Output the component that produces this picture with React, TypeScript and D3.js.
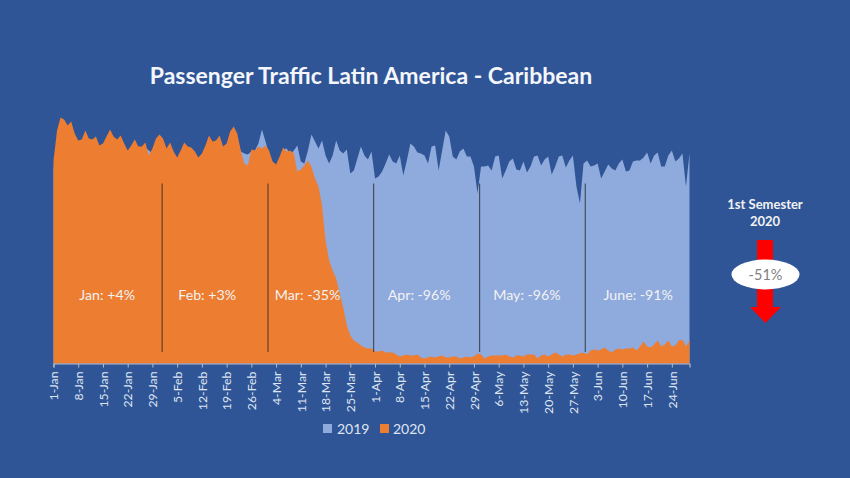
import { useEffect, useRef } from 'react';
import * as d3 from 'd3';

// daily traffic (same arbitrary units for both years)
const values2019: number[] = [
  195, 225, 240, 238, 232, 236, 225, 218, 220, 228,
  220, 218, 222, 212, 215, 220, 228, 222, 218, 222,
  214, 208, 212, 218, 211, 212, 216, 213, 210, 219,
  224, 220, 210, 216, 207, 201, 208, 216, 212, 210,
  207, 201, 205, 213, 222, 216, 218, 223, 212, 215,
  226, 231, 225, 212, 210, 209, 212, 213, 220, 234,
  222, 210, 200, 195, 200, 214, 215, 209, 213, 218,
  202, 200, 213, 229, 222, 215, 223, 208, 200, 208,
  223, 213, 210, 214, 190, 193, 205, 217, 208, 204,
  212, 185, 187, 192, 200, 209, 202, 200, 208, 188,
  203, 220, 217, 211, 210, 208, 200, 217, 218, 193,
  213, 233, 227, 207, 204, 212, 215, 207, 207, 197,
  170, 197, 197, 198, 193, 207, 208, 185, 193, 202,
  205, 194, 193, 202, 191, 197, 207, 208, 198, 204,
  207, 189, 197, 207, 208, 196, 203, 208, 177, 160,
  200, 203, 197, 198, 200, 185, 192, 199, 195, 193,
  200, 204, 192, 193, 202, 203, 203, 206, 211, 200,
  208, 211, 197, 197, 208, 213, 202, 205, 210, 177, 210,
];

const values2020: number[] = [
  203, 233, 246, 244, 238, 242, 230, 223, 224, 233,
  225, 224, 227, 218, 220, 227, 234, 227, 224, 228,
  220, 213, 218, 224, 217, 217, 221, 208, 215, 225,
  229, 225, 215, 221, 212, 206, 213, 221, 217, 216,
  212, 206, 210, 218, 228, 222, 223, 228, 217, 220,
  232, 237, 230, 213, 200, 198, 214, 213, 217, 215,
  218, 213, 202, 199, 207, 216, 212, 213, 210, 192,
  194, 198, 203, 197, 185, 177, 158, 123, 103, 93,
  85, 70, 56, 38, 28, 23, 21, 18, 16, 15,
  15, 12, 12, 13, 11, 11, 11, 9, 7, 8,
  9, 8, 8, 9, 6, 5, 6, 7, 6, 7,
  8, 6, 6, 7, 7, 5, 6, 7, 6, 7,
  10, 9, 5, 7, 8, 8, 8, 8, 9, 7,
  6, 8, 8, 7, 9, 9, 9, 5, 8, 9,
  7, 9, 11, 9, 7, 9, 9, 8, 9, 10,
  11, 9, 13, 14, 13, 14, 16, 13, 11, 14,
  15, 14, 15, 15, 16, 13, 17, 22, 17, 16,
  19, 23, 17, 19, 23, 17, 18, 23, 24, 17, 23,
];

const tickLabels: string[] = [
  '1-Jan', '8-Jan', '15-Jan', '22-Jan', '29-Jan', '5-Feb', '12-Feb', '19-Feb', '26-Feb',
  '4-Mar', '11-Mar', '18-Mar', '25-Mar', '1-Apr', '8-Apr', '15-Apr', '22-Apr', '29-Apr',
  '6-May', '13-May', '20-May', '27-May', '3-Jun', '10-Jun', '17-Jun', '24-Jun',
];

// month dividers sit between days, they were placed by hand on the original
const dividerDays: number[] = [30.75, 60.7, 90.6, 120.6, 150.5];

const monthLabels: string[] = ['Jan: +4%', 'Feb: +3%', 'Mar: -35%', 'Apr: -96%', 'May: -96%', 'June: -91%'];
const monthLabelDays: number[] = [15.2, 43.5, 71.9, 103.5, 134, 165.5];

const width = 850;
const height = 478;
const marginLeft = 53.5;
const marginRight = 160.5;
const baseline = 363.5;
const font = 'Lato, "Open Sans", sans-serif';

const x = d3.scaleLinear().domain([0, values2020.length - 1]).range([marginLeft, width - marginRight]);
const y = d3.scaleLinear().domain([0, 250]).range([baseline, baseline - 250]);

const area = d3
  .area<number>()
  .x((_, i) => x(i))
  .y0(baseline)
  .y1((d) => y(d));

const App: React.FC = () => {
  const axisRef = useRef<SVGGElement | null>(null);

  useEffect(() => {
    if (!axisRef.current) return;
    const axis = d3
      .axisBottom(x)
      .tickValues(tickLabels.map((_, i) => i * 7))
      .tickFormat((_, i) => tickLabels[i])
      .tickSizeOuter(0)
      .tickSize(4);

    const g = d3.select(axisRef.current);
    g.selectAll('*').remove();
    g.call(axis);
    g.select('.domain').attr('stroke', '#b4bccb').attr('stroke-width', 1.2);
    g.selectAll('.tick line').attr('stroke', '#b4bccb');
    g.selectAll('.tick text')
      .attr('transform', 'rotate(-90)')
      .attr('x', -8)
      .attr('y', 0)
      .attr('dy', '0.34em')
      .attr('text-anchor', 'end')
      .attr('fill', '#dfe5f0')
      .style('font-family', font)
      .style('font-size', '12.3px');
  }, []);

  return (
    <svg
      width={width}
      height={height}
      style={{ position: 'absolute', left: 0, top: 0, background: '#2f5597' }}
    >
      <text x={371} y={84} textAnchor="middle" fill="#f4f6fa" fontFamily={font} fontWeight={700} fontSize={23}>
        Passenger Traffic Latin America - Caribbean
      </text>

      <path d={area(values2019) ?? ''} fill="#8faadc" />
      <path d={area(values2020) ?? ''} fill="#ed7d31" />

      {dividerDays.map((d) => (
        <line
          key={d}
          x1={x(d)}
          x2={x(d)}
          y1={183.5}
          y2={352}
          stroke="#262626"
          strokeOpacity={0.75}
          strokeWidth={1.1}
        />
      ))}

      {monthLabels.map((label, i) => (
        <text
          key={label}
          x={x(monthLabelDays[i])}
          y={299.5}
          textAnchor="middle"
          fill="#f2f2f2"
          fontFamily={font}
          fontSize={14.2}
        >
          {label}
        </text>
      ))}

      <g ref={axisRef} transform={`translate(0,${baseline})`} />

      <g fontFamily={font} fontSize={14} fill="#dfe5f0">
        <rect x={323} y={424} width={9} height={9} fill="#8faadc" />
        <text x={337} y={434}>2019</text>
        <rect x={380} y={424} width={9} height={9} fill="#ed7d31" />
        <text x={393} y={434}>2020</text>
      </g>

      <g textAnchor="middle" fontFamily={font} fontWeight={700} fontSize={13} fill="#f2f2f2">
        <text x={765} y={209}>1st Semester</text>
        <text x={765} y={226}>2020</text>
      </g>

      <path d="M757,240H773V307H781L765.5,323L750,307H757Z" fill="#ff0000" />
      <ellipse cx={765.5} cy={274.5} rx={34} ry={15} fill="#ffffff" />
      <text x={765.5} y={280} textAnchor="middle" fontFamily={font} fontSize={14.5} fill="#7f7f7f">
        -51%
      </text>
    </svg>
  );
};

export default App;
